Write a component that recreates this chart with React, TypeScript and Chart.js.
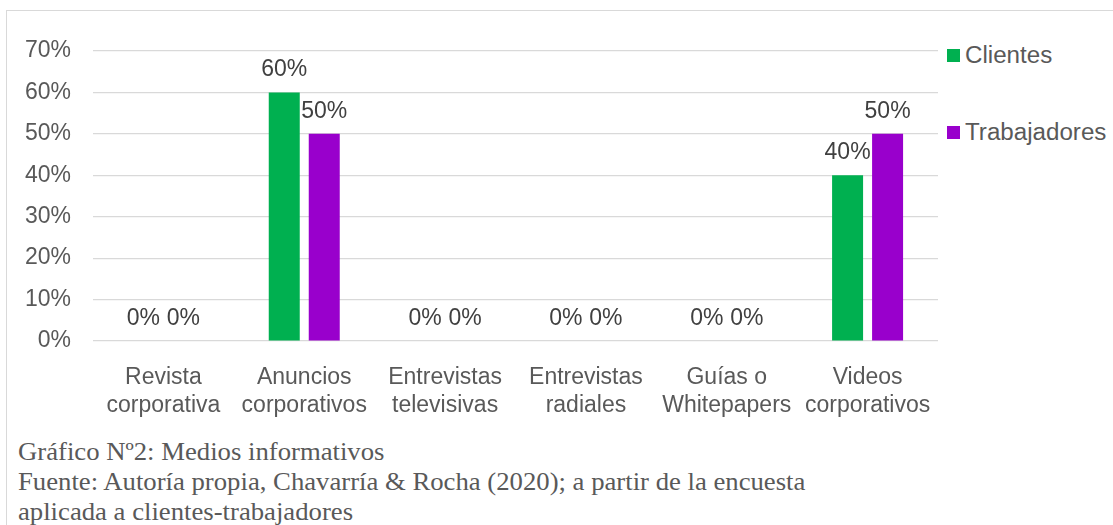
import React, { useEffect, useRef } from "react";
import { Chart, registerables } from "chart.js";

Chart.register(...registerables);

const categories: string[][] = [
  ["Revista", "corporativa"],
  ["Anuncios", "corporativos"],
  ["Entrevistas", "televisivas"],
  ["Entrevistas", "radiales"],
  ["Guías o", "Whitepapers"],
  ["Videos", "corporativos"],
];
const clientes: number[] = [0, 60, 0, 0, 0, 40];
const trabajadores: number[] = [0, 50, 0, 0, 0, 50];
const seriesNames: string[] = ["Clientes", "Trabajadores"];
const seriesColors: string[] = ["#00B050", "#9900CC"];
const yTicks: number[] = [0, 10, 20, 30, 40, 50, 60, 70];
const captionLines: string[] = [
  "Gráfico Nº2: Medios informativos",
  "Fuente: Autoría propia, Chavarría & Rocha (2020); a partir de la encuesta",
  "aplicada a clientes-trabajadores",
];

const FONT = "'Liberation Sans', Arial, sans-serif";
const FS = 23;

const dataLabels = {
  id: "dataLabels",
  afterDatasetsDraw(chart: any) {
    const ctx = chart.ctx;
    ctx.save();
    ctx.font = `${FS}px ${FONT}`;
    ctx.fillStyle = "#404040";
    ctx.textAlign = "center";
    ctx.textBaseline = "alphabetic";
    chart.data.datasets.forEach((ds: any, i: number) => {
      const meta = chart.getDatasetMeta(i);
      meta.data.forEach((el: any, j: number) => {
        ctx.fillText(`${ds.data[j]}%`, el.x, el.y - 16);
      });
    });
    ctx.restore();
  },
};

export default function App() {
  const ref = useRef<HTMLCanvasElement | null>(null);
  useEffect(() => {
    if (!ref.current) return;
    const chart = new Chart(ref.current, {
      type: "bar",
      data: {
        labels: categories,
        datasets: [
          { label: seriesNames[0], data: clientes, backgroundColor: seriesColors[0], categoryPercentage: 0.568, barPercentage: 0.775 },
          { label: seriesNames[1], data: trabajadores, backgroundColor: seriesColors[1], categoryPercentage: 0.568, barPercentage: 0.775 },
        ],
      },
      options: {
        responsive: false,
        animation: false,
        layout: { padding: { left: 0, right: 7, top: 51, bottom: 0 } },
        plugins: { legend: { display: false }, tooltip: { enabled: false } },
        scales: {
          x: {
            grid: { display: false },
            border: { display: false },
            ticks: {
              color: "#595959",
              font: { family: FONT, size: FS, lineHeight: 1.25 },
              padding: 14,
              maxRotation: 0,
              minRotation: 0,
              autoSkip: false,
            },
            afterFit: (s: any) => { s.height = 79; },
          },
          y: {
            min: 0,
            max: 70,
            afterBuildTicks: (s: any) => { s.ticks = yTicks.map((v) => ({ value: v })); },
            grid: { color: "#d9d9d9", lineWidth: 1.2, drawTicks: false },
            border: { display: false },
            ticks: {
              color: "#595959",
              font: { family: FONT, size: FS },
              padding: 22,
              callback: (v: any) => `${v}%`,
            },
            afterFit: (s: any) => { s.width = 93; },
          },
        },
      },
      plugins: [dataLabels],
    });
    return () => chart.destroy();
  }, []);

  return (
    <div style={{ position: "absolute", left: 0, top: 0, width: 1113, height: 525, overflow: "hidden", background: "#fff" }}>
      <div style={{ position: "absolute", left: 6, top: 10, width: 1107, height: 515, borderLeft: "1.5px solid #d9d9d9", borderTop: "1.5px solid #d9d9d9", boxSizing: "border-box" }} />
      <canvas ref={ref} width={945} height={420} style={{ position: "absolute", left: 0, top: 0 }} />
      {seriesNames.map((n, i) => (
        <div key={n} style={{ position: "absolute", left: 947, top: [55, 132][i] - 15, height: 30, display: "flex", alignItems: "center", fontFamily: FONT, fontSize: FS, color: "#595959", whiteSpace: "nowrap" }}>
          <span style={{ display: "inline-block", width: 13, height: 13, background: seriesColors[i], marginRight: 5 }} />
          <span style={{ display: "inline-block", transform: "scaleX(1.05)", transformOrigin: "left center" }}>{n}</span>
        </div>
      ))}
      <div style={{ position: "absolute", left: 18, top: 437, fontFamily: "'Liberation Serif', 'Times New Roman', serif", fontSize: 25, lineHeight: "30px", color: "#595959", whiteSpace: "nowrap", transform: "scaleX(1.068)", transformOrigin: "left top" }}>
        {captionLines.map((l) => (<div key={l}>{l}</div>))}
      </div>
    </div>
  );
}
